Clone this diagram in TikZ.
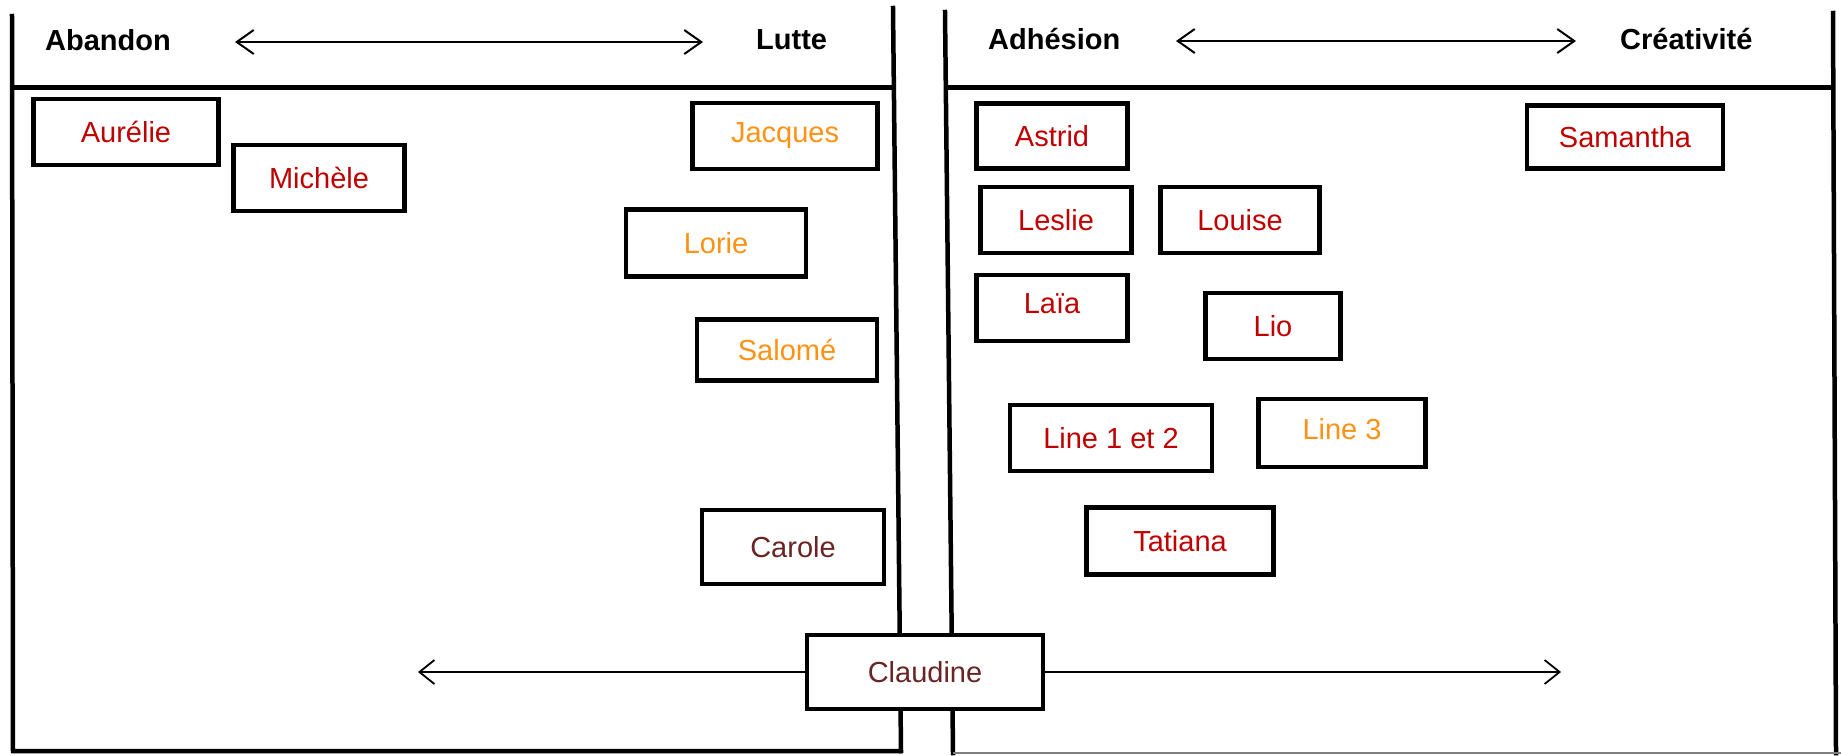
\documentclass[tikz,border=0pt]{standalone}
\usepackage{fontspec}
\setmainfont{Liberation Sans}
\usetikzlibrary{arrows.meta}
\definecolor{nred}{HTML}{C00000}
\definecolor{norange}{HTML}{FF9214}
\definecolor{nbrown}{HTML}{6B2424}
\tikzset{
  panelline/.style={line width=4.5pt, line cap=rect},
  headline/.style={line width=5pt},
  hdr/.style={font=\fontsize{29}{32}\selectfont\bfseries, inner sep=0pt},
  namebox/.style={draw, line width=4.5pt, fill=white, inner sep=0pt,
    font=\fontsize{29}{32}\selectfont},
  axisarrow/.style={line width=2pt, arrows={Straight Barb[length=17pt,width=24pt]-Straight Barb[length=17pt,width=24pt]}},
  botarrow/.style={line width=1.8pt, -{Straight Barb[length=15pt,width=24pt]}}
}
\begin{document}
\begin{tikzpicture}[x=1pt,y=-1pt]
\useasboundingbox (0,0) rectangle (1841,755);
\fill[white] (0,0) rectangle (1841,755);
% left panel
\draw[panelline] (12,16) -- (13,751) -- (900,751);
\draw[panelline] (893,8) -- (901,751);
\draw[headline] (12,87) -- (893,87);
% right panel
\draw[panelline] (945,12) -- (953,753);
\draw[panelline] (1833,13) -- (1836,753);
\draw[line width=1.5pt, gray] (953,753) -- (1841,753);
\draw[headline] (945,87) -- (1833,87);
% headers
\node[hdr, anchor=west] (abandon) at (45,40) {Abandon};
\node[hdr, anchor=west] (lutte) at (756,40) {Lutte};
\coordinate (la) at (235,42);
\coordinate (lb) at (703,42);
\draw[axisarrow] (la) -- (lb);
\node[hdr, anchor=west] (adhesion) at (988,39) {Adhésion};
\node[hdr, anchor=west] (creativite) at (1620,39) {Créativité};
\coordinate (ra) at (1176,41);
\coordinate (rb) at (1576,41);
\draw[axisarrow] (ra) -- (rb);
% left names
\node[namebox, text=nred, minimum width=185pt, minimum height=66pt] (aurelie) at (126,132) {Aurélie};
\node[namebox, text=nred, minimum width=171pt, minimum height=66pt] (michele) at (319,178) {Michèle};
\node[namebox, text=norange, minimum width=185pt, minimum height=66pt] (jacques) at (785,136) {Jacques};
\node[namebox, text=norange, minimum width=180pt, minimum height=67pt] (lorie) at (716,243) {Lorie};
\node[namebox, text=norange, minimum width=180pt, minimum height=61pt] (salome) at (787,350) {Salomé};
\node[namebox, text=nbrown, minimum width=182pt, minimum height=74pt] (carole) at (793,547) {Carole};
% right names
\node[namebox, text=nred, minimum width=151pt, minimum height=65pt] (astrid) at (1052,136) {Astrid};
\node[namebox, text=nred, minimum width=196pt, minimum height=63pt] (samantha) at (1625,137) {Samantha};
\node[namebox, text=nred, minimum width=151pt, minimum height=66pt] (leslie) at (1056,220) {Leslie};
\node[namebox, text=nred, minimum width=159pt, minimum height=66pt] (louise) at (1240,220) {Louise};
\node[namebox, text=nred, minimum width=151pt, minimum height=66pt, text depth=8pt] (laia) at (1052,308) {Laïa};
\node[namebox, text=nred, minimum width=135pt, minimum height=66pt] (lio) at (1273,326) {Lio};
\node[namebox, text=nred, minimum width=202pt, minimum height=66pt] (line12) at (1111,438) {Line 1 et 2};
\node[namebox, text=norange, minimum width=167pt, minimum height=68pt, text depth=8pt] (line3) at (1342,433) {Line 3};
\node[namebox, text=nred, minimum width=187pt, minimum height=67pt] (tatiana) at (1180,541) {Tatiana};
% Claudine and bottom arrows
\node[namebox, text=nbrown, minimum width=236pt, minimum height=74pt] (claudine) at (925,672) {Claudine};
\coordinate (bl) at (418,672);
\coordinate (br) at (1561,672);
\draw[botarrow] (claudine.west) -- (bl);
\draw[botarrow] (claudine.east) -- (br);
\end{tikzpicture}
\end{document}
